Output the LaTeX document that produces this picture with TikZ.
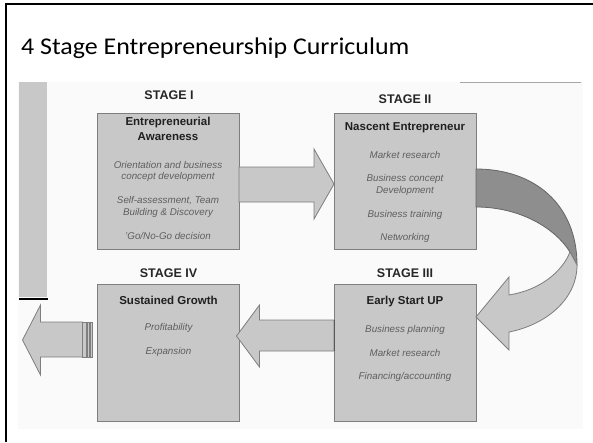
\documentclass[tikz,border=0pt]{standalone}
\usepackage{fontspec}
\setmainfont{Liberation Sans}
\newfontfamily\titlefont{Carlito}
\usetikzlibrary{calc}
\definecolor{boxfill}{HTML}{C8C8C8}
\definecolor{boxline}{HTML}{7E7E7E}
\definecolor{itemgray}{HTML}{5E5E5E}
\definecolor{darkband}{HTML}{8E8E8E}
\definecolor{bgpanel}{HTML}{FAFAFA}
\begin{document}
\begin{tikzpicture}[x=1pt,y=-1pt,
  stagebox/.style={draw=boxline, line width=1pt, fill=boxfill, minimum width=142pt, minimum height=136pt, inner sep=0pt, outer sep=0pt},
  stagelbl/.style={font=\fontsize{12.5}{14}\selectfont\bfseries, text=black!85, inner sep=0pt},
  boxtitle/.style={font=\fontsize{11.5}{13}\selectfont\bfseries, text=black!88, inner sep=0pt},
  item/.style={font=\fontsize{9.8}{11}\selectfont\itshape, text=itemgray, inner sep=0pt},
  blockarrow/.style={fill=boxfill, draw=boxline, line width=0.8pt, line join=miter}
]
\useasboundingbox (0,0) rectangle (593,442);
\fill[white] (0,0) rectangle (593,442);
% slide frame (top and left only)
\draw[line width=2.5pt] (6,442) -- (6,4) -- (593,4);
% title
\node[font=\titlefont\fontsize{24}{28}\selectfont, anchor=base west, xscale=1.08, inner sep=0pt] (title) at (21,54) {4 Stage Entrepreneurship Curriculum};
% picture panel
\fill[bgpanel] (18,82) rectangle (583,429);
\draw[gray!70, line width=1pt] (460,82) -- (581,82);
\fill[boxfill] (19,82) rectangle (47,297);
\draw[black, line width=2pt] (19,298.5) -- (48,298.5);
% boxes
\node[stagebox] (s1) at (168,181) {};
\node[stagebox] (s2) at (405,181) {};
\node[stagebox, minimum height=137pt] (s3) at (405,352.5) {};
\node[stagebox, minimum height=137pt] (s4) at (168.5,352.5) {};
% stage labels
\node[stagelbl] (l1) at ($(s1.north)+(1,-18)$) {STAGE I};
\node[stagelbl] (l2) at ($(s2.north)+(0,-14)$) {STAGE II};
\node[stagelbl] (l3) at ($(s3.north)+(0,-11)$) {STAGE III};
\node[stagelbl] (l4) at ($(s4.north)+(0,-11)$) {STAGE IV};
% box I text
\node[boxtitle] (a0) at ($(s1.north)+(0,10)$) {Entrepreneurial};
\node[boxtitle] (a1) at ($(s1.north)+(0,24)$) {Awareness};
\node[item] (a2) at ($(s1.north)+(0,52)$) {Orientation and business};
\node[item] (a3) at ($(s1.north)+(0,64)$) {concept development};
\node[item] (a4) at ($(s1.north)+(0,88)$) {Self-assessment, Team};
\node[item] (a5) at ($(s1.north)+(0,100)$) {Building \& Discovery};
\node[item] (a6) at ($(s1.north)+(0,123)$) {'Go/No-Go decision};
% box II text
\node[boxtitle] (b0) at ($(s2.north)+(0,15)$) {Nascent Entrepreneur};
\node[item] (b1) at ($(s2.north)+(0,42)$) {Market research};
\node[item] (b2) at ($(s2.north)+(0,66)$) {Business concept};
\node[item] (b3) at ($(s2.north)+(0,78)$) {Development};
\node[item] (b4) at ($(s2.north)+(0,102)$) {Business training};
\node[item] (b5) at ($(s2.north)+(0,125)$) {Networking};
% box III text
\node[boxtitle] (c0) at ($(s3.north)+(0,18)$) {Early Start UP};
\node[item] (c1) at ($(s3.north)+(0,46)$) {Business planning};
\node[item] (c2) at ($(s3.north)+(0,69)$) {Market research};
\node[item] (c3) at ($(s3.north)+(0,93)$) {Financing/accounting};
% box IV text
\node[boxtitle] (d0) at ($(s4.north)+(0,16)$) {Sustained Growth};
\node[item] (d1) at ($(s4.north)+(0,44)$) {Profitability};
\node[item] (d2) at ($(s4.north)+(0,68)$) {Expansion};
% arrow I -> II
\filldraw[blockarrow] ($(s1.east)+(0,-14)$) -- ($(s2.west)+(-20,-14)$) -- ($(s2.west)+(-20,-32)$)
  -- ($(s2.west)+(0,3)$) -- ($(s2.west)+(-20,38)$) -- ($(s2.west)+(-20,21)$) -- ($(s1.east)+(0,21)$) -- cycle;
% arrow III -> IV
\filldraw[blockarrow] ($(s3.west)+(0,-32.5)$) -- ($(s4.east)+(20,-32.5)$) -- ($(s4.east)+(20,-47.5)$)
  -- ($(s4.east)+(-3,-16.5)$) -- ($(s4.east)+(20,14.5)$) -- ($(s4.east)+(20,-1.5)$) -- ($(s3.west)+(0,-1.5)$) -- cycle;
\draw[boxline!70!black, line width=1pt] ($(s3.west)+(0,-32.5)$) -- ($(s3.west)+(0,-1.5)$);
% outgoing arrow left of IV
\filldraw[blockarrow] ($(s4.west)+(-15,-30.5)$) -- ($(s4.west)+(-57,-30.5)$) -- ($(s4.west)+(-57,-47.5)$)
  -- ($(s4.west)+(-75,-12.5)$) -- ($(s4.west)+(-57,22.5)$) -- ($(s4.west)+(-57,4.5)$) -- ($(s4.west)+(-15,4.5)$) -- cycle;
\filldraw[blockarrow, line width=0.6pt] ($(s4.west)+(-15,-30.5)$) rectangle ($(s4.west)+(-11.5,4.5)$);
\filldraw[blockarrow, line width=0.6pt] ($(s4.west)+(-10.5,-30.5)$) rectangle ($(s4.west)+(-8,4.5)$);
\filldraw[blockarrow, line width=0.6pt] ($(s4.west)+(-7,-30.5)$) rectangle ($(s4.west)+(-5,4.5)$);
% curved arrow II -> III
\filldraw[fill=darkband, draw=boxline!80!black, line width=0.8pt]
  ($(s2.east)+(0,-12)$) .. controls (535,169) and (577,205) .. (577,265)
  -- (570,252) .. controls (555,228) and (520,207) .. ($(s2.east)+(0,26)$) -- cycle;
\filldraw[blockarrow]
  (570,252) .. controls (562,272) and (540,290) .. (509,295) -- (509,277)
  -- ($(s3.east)+(0,-35.5)$) -- (509,350) -- (509,332)
  .. controls (545,325) and (577,300) .. (577,265) -- cycle;
\end{tikzpicture}
\end{document}
